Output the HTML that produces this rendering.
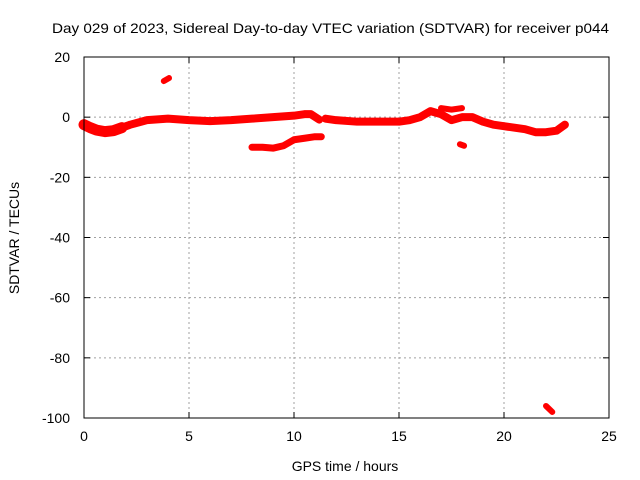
<!DOCTYPE html>
<html><head><meta charset="utf-8"><style>
body{margin:0;background:#fff}
svg{display:block;font-family:"Liberation Sans",sans-serif}
</style></head><body>
<svg id="c" width="640" height="480">
<text x="52" y="33" font-size="14" textLength="557" lengthAdjust="spacingAndGlyphs">Day 029 of 2023, Sidereal Day-to-day VTEC variation (SDTVAR) for receiver p044</text>
<text x="345" y="471" font-size="14" text-anchor="middle">GPS time / hours</text>
<text transform="translate(19,238) rotate(-90)" font-size="14" text-anchor="middle">SDTVAR / TECUs</text>
<g id="grid"></g><g id="marks"></g>
<rect x="84" y="57" width="525" height="361" fill="none" stroke="#000"/>
</svg>
<script>
const xTicks=[0,5,10,15,20,25];
const yTicks=[20,0,-20,-40,-60,-80,-100];
const segStartH=[0,0.3,0.6,1,1.4,1.8];
const segStartV=[-2.5,-3.5,-4.3,-4.8,-4.5,-3.5];
const segMainH=[1.8,2.2,3,4,5,6,7,8,9,10,10.5,10.8,11.2];
const segMainV=[-3.5,-2.5,-1,-0.5,-1,-1.3,-1,-0.5,0,0.5,1,1,-0.8];
const segRightH=[11.5,12,13,14,15,15.5,16,16.5,17,17.5,18,18.5,19,19.5,20,20.5,21,21.5,22,22.5,22.9];
const segRightV=[-0.5,-1,-1.5,-1.5,-1.5,-1,0,2,1,-1,0,0,-1.5,-2.5,-3,-3.5,-4,-5,-5,-4.5,-2.5];
const segLowH=[8,8.5,9,9.5,10,10.5,11,11.3];
const segLowV=[-10,-10,-10.3,-9.5,-7.5,-7,-6.5,-6.5];
const segHiH=[17,17.5,18];
const segHiV=[3,2.5,3];
const blobAH=[3.8,4.05];
const blobAV=[12,13];
const blobBH=[17.9,18.1];
const blobBV=[-9,-9.5];
const blobCH=[22,22.3];
const blobCV=[-96,-98];
const X=h=>84+h*21, Y=v=>57+(20-v)*361/120;
const NS='http://www.w3.org/2000/svg';
const g=document.getElementById('grid'), m=document.getElementById('marks');
function mk(tag,attrs,parent){const e=document.createElementNS(NS,tag);for(const k in attrs)e.setAttribute(k,attrs[k]);parent.appendChild(e);return e;}
xTicks.forEach(t=>{
 if(t>0&&t<25){const l=mk('line',{x1:X(t),x2:X(t),y1:57,y2:418,stroke:'#a0a0a0','stroke-dasharray':'2,3'},g);
 
 }
 mk('line',{x1:X(t),x2:X(t),y1:418,y2:412,stroke:'#000'},g);
 mk('line',{x1:X(t),x2:X(t),y1:57,y2:63,stroke:'#000'},g);
 const tx=mk('text',{x:X(t),y:441,'font-size':14,'text-anchor':'middle'},g);tx.textContent=t;
 
 
});
yTicks.forEach(t=>{
 if(t<20&&t>-100){const l=mk('line',{x1:84,x2:609,y1:Y(t),y2:Y(t),stroke:'#a0a0a0','stroke-dasharray':'2,3'},g);
 
 }
 mk('line',{x1:84,x2:90,y1:Y(t),y2:Y(t),stroke:'#000'},g);
 mk('line',{x1:609,x2:603,y1:Y(t),y2:Y(t),stroke:'#000'},g);
 const tx=mk('text',{x:70,y:Y(t)+5,'font-size':14,'text-anchor':'end'},g);tx.textContent=t;
 
 
});
function seg(H,V,w,name){
 const p=mk('polyline',{points:H.map((h,i)=>X(h)+','+Y(V[i])).join(' '),fill:'none',stroke:'#f00','stroke-width':w,'stroke-linejoin':'round','stroke-linecap':'round'},m);
 
 
}
seg(segStartH,segStartV,11,'series-start');
seg(segMainH,segMainV,8,'series-main-left');
seg(segRightH,segRightV,8,'series-main-right');
seg(segLowH,segLowV,7,'series-lower');
seg(segHiH,segHiV,6,'series-upper-blob');
seg(blobAH,blobAV,6,'blob-hour-4');
seg(blobBH,blobBV,6,'blob-hour-18');
seg(blobCH,blobCV,6,'blob-hour-22');
</script>
</body></html>
